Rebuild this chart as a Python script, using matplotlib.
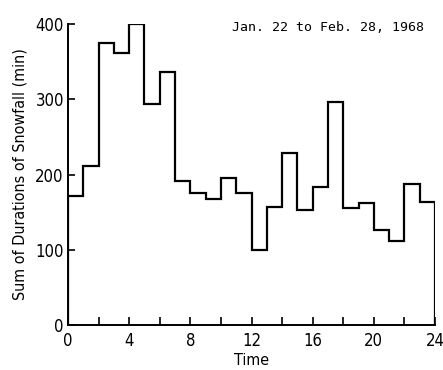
import numpy as np
import matplotlib
matplotlib.use("Agg")
import matplotlib.pyplot as plt
from matplotlib.ticker import MultipleLocator

# hourly sums of snowfall duration (min), Jan. 22 to Feb. 28, 1968
hour_edges = list(range(25))
durations = [172, 211, 375, 361, 400, 294, 336, 192, 176, 168, 195, 176,
             100, 157, 228, 153, 183, 297, 155, 162, 126, 111, 187, 163]

xticks = [0, 4, 8, 12, 16, 20, 24]
yticks = [0, 100, 200, 300, 400]

plt.rcParams['font.family'] = ['DejaVu Sans']
plt.rcParams['font.stretch'] = 'condensed'

fig = plt.figure(figsize=(4.43, 3.70), dpi=100)
ax = fig.add_axes([0.1535, 0.1216, 0.8285, 0.8135])

ax.stairs(durations, hour_edges, baseline=0, color='black', linewidth=1.6)

ax.set_xlim(0, 24)
ax.set_ylim(0, 400)
ax.set_xticks(xticks)
ax.set_yticks(yticks)
ax.xaxis.set_minor_locator(MultipleLocator(2))
ax.tick_params(axis='both', which='both', direction='in', labelsize=12,
               width=1.2, color='black')
ax.tick_params(axis='x', which='major', length=6, pad=5)
ax.tick_params(axis='x', which='minor', length=6)
ax.tick_params(axis='y', length=5, pad=3)

for s in ['top', 'right']:
    ax.spines[s].set_visible(False)
for s in ['left', 'bottom']:
    ax.spines[s].set_linewidth(1.4)

ax.set_xlabel("Time", fontsize=11.5, labelpad=2)
ax.set_ylabel("Sum of Durations of Snowfall (min)", fontsize=11.5, labelpad=6)
ax.text(0.97, 0.99, "Jan. 22 to Feb. 28, 1968", transform=ax.transAxes,
        ha='right', va='center', family='DejaVu Sans Mono', fontsize=9.5)

fig.savefig("out.png", dpi=100)
